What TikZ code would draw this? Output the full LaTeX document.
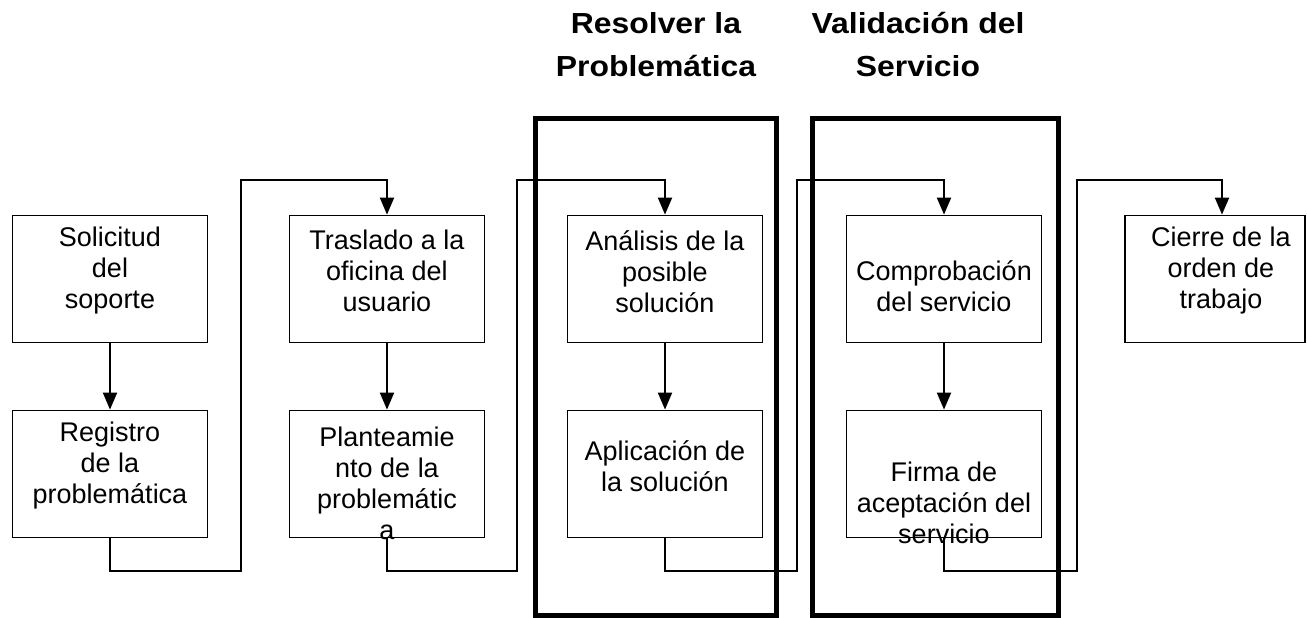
\documentclass[tikz,border=0pt]{standalone}
\usepackage{fontspec}
\setmainfont{Liberation Sans}
\newfontfamily\titfont{Liberation Sans}[FakeStretch=1.1]
\usetikzlibrary{arrows.meta}

\tikzset{
  caja/.style={draw, line width=1.8pt, minimum width=195pt, minimum height=127pt, inner sep=0pt},
  texto/.style={align=center, font=\fontsize{27}{31}\selectfont},
  titulo/.style={align=center, font=\titfont\bfseries\fontsize{29}{43}\selectfont},
  marco/.style={line width=5pt},
  flecha/.style={line width=2pt, -{Triangle[length=17pt,width=14pt]}},
}

\begin{document}
\begin{tikzpicture}[x=1pt,y=-1pt]
    \useasboundingbox (0,0) rectangle (1307,618);
    % marcos de las etapas
    \draw [marco] (535,118) rectangle (776,615);
    \draw [marco] (812,118) rectangle (1058,615);
    \node [titulo] (tres) at (656,45) {Resolver la\\Problemática};
    \node [titulo] (tval) at (918,45) {Validación del\\Servicio};
    % cajas
    \node [caja] (sol) at (110,279) {};
    \node [caja] (reg) at (110,474) {};
    \node [caja] (tras) at (387,279) {};
    \node [caja] (plan) at (387,474) {};
    \node [caja] (ana) at (665,279) {};
    \node [caja] (apl) at (665,474) {};
    \node [caja] (comp) at (944,279) {};
    \node [caja] (firma) at (944,474) {};
    \node [caja,minimum width=180pt] (cierre) at (1215,279) {};
    % textos
    \node [texto] (t1) at (110,271) {Solicitud\\del\\soporte};
    \node [texto] (t2) at (110,466) {Registro\\de la\\problemática};
    \node [texto] (t3) at (387,271) {Traslado a la\\oficina del\\usuario};
    \node [texto] (t4) at (387,483) {Planteamie\\nto de la\\problemátic\\a};
    \node [texto] (t5) at (665,272) {Análisis de la\\posible\\solución};
    \node [texto] (t6) at (665,466) {Aplicación de\\la solución};
    \node [texto] (t7) at (944,286) {Comprobación\\del servicio};
    \node [texto] (t8) at (944,503) {Firma de\\aceptación del\\servicio};
    \node [texto] (t9) at (1221,271) {Cierre de la\\orden de\\trabajo};
    % flechas verticales
    \draw [flecha] (sol.south) -- (reg.north);
    \draw [flecha] (tras.south) -- (plan.north);
    \draw [flecha] (ana.south) -- (apl.north);
    \draw [flecha] (comp.south) -- (firma.north);
    % conectores entre columnas
    \coordinate (k1b) at (241,571);
    \coordinate (k1t) at (241,180);
    \coordinate (k2b) at (517,571);
    \coordinate (k2t) at (517,180);
    \coordinate (k3b) at (797,571);
    \coordinate (k3t) at (797,180);
    \coordinate (k4b) at (1077,571);
    \coordinate (k4t) at (1077,180);
    \draw [flecha] (reg.south) |- (k1b) -- (k1t) -| (tras.north);
    \draw [flecha] (plan.south) |- (k2b) -- (k2t) -| (ana.north);
    \draw [flecha] (apl.south) |- (k3b) -- (k3t) -| (comp.north);
    \draw [flecha] (firma.south) |- (k4b) -- (k4t) -| ([xshift=7pt]cierre.north);
\end{tikzpicture}
\end{document}
